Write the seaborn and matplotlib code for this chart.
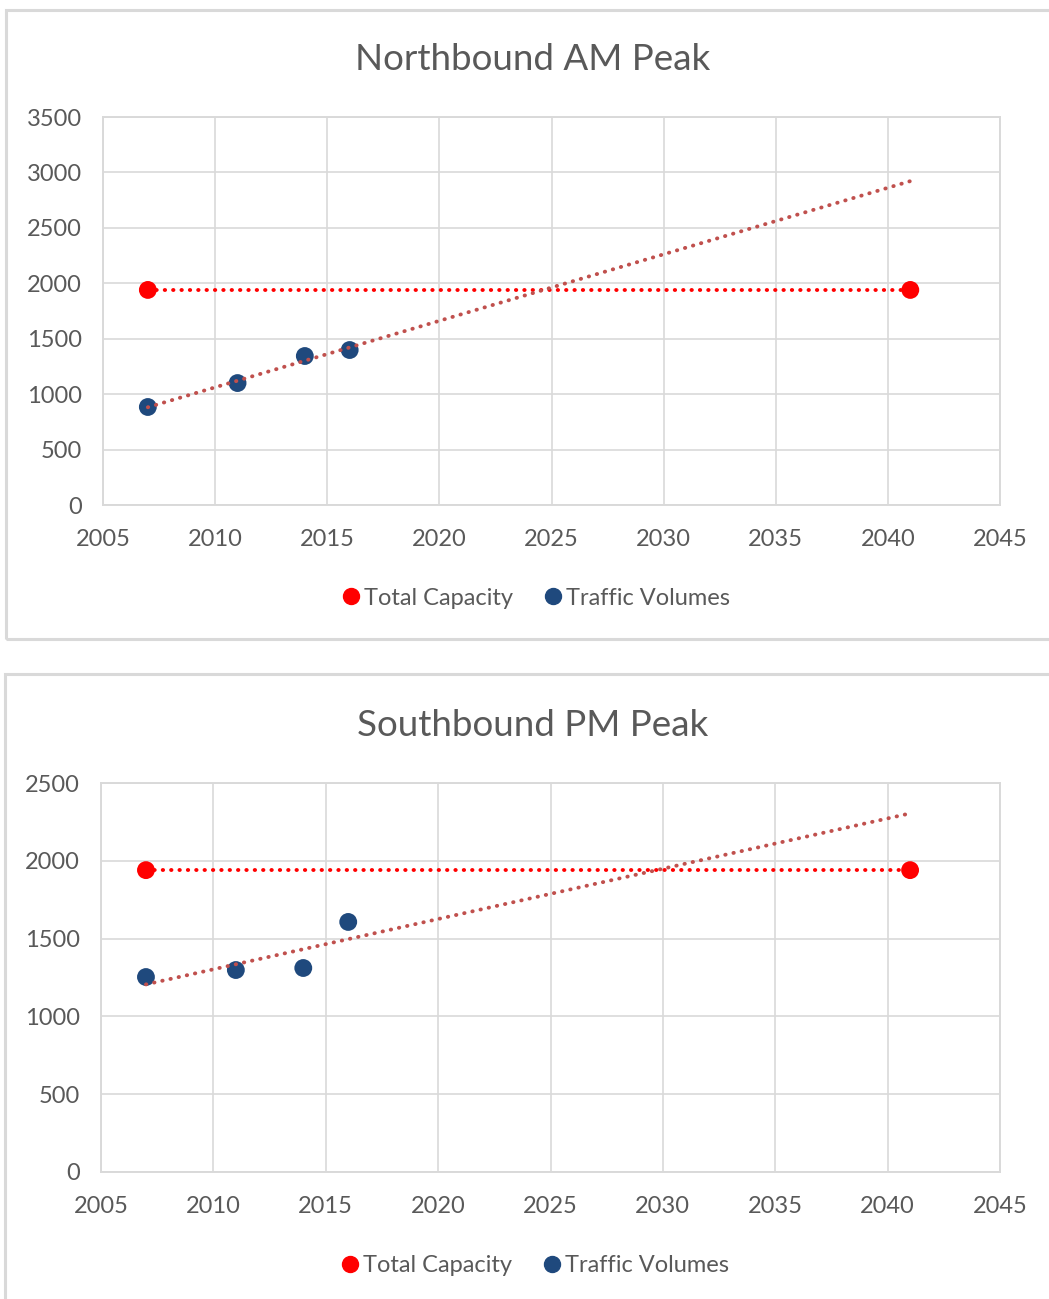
import numpy as np
import pandas as pd
import seaborn as sns
import matplotlib
matplotlib.use("Agg")
import matplotlib.pyplot as plt
from matplotlib.patches import Rectangle
from matplotlib.lines import Line2D

# ---- data -------------------------------------------------------------
capacity_years = [2007, 2041]
nb_capacity = [1940, 1940]
sb_capacity = [1940, 1940]

count_years = [2007, 2011, 2014, 2016]
nb_volumes = [884, 1100, 1344, 1398]
sb_volumes = [1253, 1298, 1311, 1607]

x_ticks = [2005, 2010, 2015, 2020, 2025, 2030, 2035, 2040, 2045]
nb_y_ticks = [0, 500, 1000, 1500, 2000, 2500, 3000, 3500]
sb_y_ticks = [0, 500, 1000, 1500, 2000, 2500]

titles = ["Northbound AM Peak", "Southbound PM Peak"]
legend_labels = ["Total Capacity", "Traffic Volumes"]

# ---- style ------------------------------------------------------------
RED = "#FF0000"
NAVY = "#1F497D"
TREND = "#C0504D"
GRID = "#D9D9D9"
TEXT = "#595959"
DOTS = (0, (0.1, 2.05))

sns.set_theme(style="whitegrid")
plt.rcParams["font.family"] = ["Lato", "DejaVu Sans"]

W, H = 1049, 1299
fig = plt.figure(figsize=(W / 100, H / 100), dpi=100)

# chart-area frames
fig.add_artist(Rectangle((6 / W, 1 - 639 / H), 1.1, (639 - 10) / H,
                         transform=fig.transFigure, fill=False,
                         edgecolor=GRID, lw=2.2))
fig.add_artist(Rectangle((5 / W, -0.1), 1.1, 0.1 + (1 - 674 / H),
                         transform=fig.transFigure, fill=False,
                         edgecolor=GRID, lw=2.2))


def draw_panel(rect, title, title_y, capacity, volumes, yticks):
    ax = fig.add_axes(rect)
    cap_df = pd.DataFrame({"year": capacity_years, "value": capacity})
    vol_df = pd.DataFrame({"year": count_years, "value": volumes})

    # linear trend of the counts, projected to the capacity horizon
    slope, intercept = np.polyfit(count_years, volumes, 1)
    trend_x = np.array([count_years[0], capacity_years[-1]])
    trend_df = pd.DataFrame({"year": trend_x, "value": slope * trend_x + intercept})

    sns.lineplot(data=cap_df, x="year", y="value", ax=ax, color=RED,
                 lw=2.8, linestyle=DOTS, dash_capstyle="round", zorder=2)
    sns.scatterplot(data=cap_df, x="year", y="value", ax=ax, color=RED,
                    s=165, edgecolor="none", zorder=3)
    sns.scatterplot(data=vol_df, x="year", y="value", ax=ax, color=NAVY,
                    s=165, edgecolor="none", zorder=3)
    sns.lineplot(data=trend_df, x="year", y="value", ax=ax, color=TREND,
                 lw=2.8, linestyle=DOTS, dash_capstyle="round", zorder=4)

    ax.set_xlim(x_ticks[0], x_ticks[-1])
    ax.set_ylim(yticks[0], yticks[-1])
    ax.set_xticks(x_ticks)
    ax.set_yticks(yticks)
    ax.set_xlabel("")
    ax.set_ylabel("")
    ax.grid(True, color=GRID, lw=1.2)
    for side, sp in ax.spines.items():
        sp.set_visible(True)
        sp.set_color(GRID)
        sp.set_linewidth(1.4)
    ax.tick_params(axis="both", length=0, labelsize=17, labelcolor=TEXT)
    ax.tick_params(axis="y", pad=15)
    ax.tick_params(axis="x", pad=17.5)

    handles = [
        Line2D([], [], marker="o", ls="none", color=RED, markersize=11.5),
        Line2D([], [], marker="o", ls="none", color=NAVY, markersize=11.5),
    ]
    ax.legend(handles, legend_labels, loc="center", ncol=2,
              bbox_to_anchor=(0.481, -0.24), frameon=False,
              fontsize=17, labelcolor=TEXT, handletextpad=0.05,
              columnspacing=1.2, handlelength=1.0)

    fig.text(533 / W, title_y, title, ha="center", va="center",
             fontsize=26.5, color=TEXT)
    return ax


draw_panel([103 / W, 1 - 505 / H, 897 / W, 388 / H], titles[0],
           1 - 59 / H, nb_capacity, nb_volumes, nb_y_ticks)
draw_panel([101 / W, 1 - 1172 / H, 899 / W, 389 / H], titles[1],
           1 - 725 / H, sb_capacity, sb_volumes, sb_y_ticks)

fig.savefig("out.png", dpi=100, facecolor="white")
